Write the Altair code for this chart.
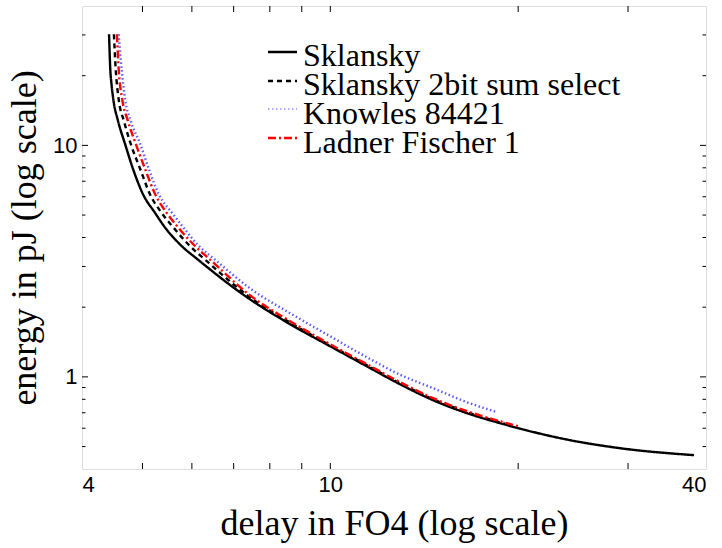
import altair as alt
import pandas as pd

# Energy/delay trade-off curves of four adder architectures
series_names = ["Sklansky", "Sklansky 2bit sum select", "Knowles 84421", "Ladner Fischer 1"]

sklansky_delay = [4.42, 4.44, 4.46, 4.49, 4.57, 4.69, 4.83, 5.01, 5.24, 5.43, 5.74, 6.18, 7.43, 8.62, 9.99,
                  11.36, 12.93, 14.61, 16.56, 18.71, 24.21, 29.12, 38.27]
sklansky_energy = [30.2, 21.3, 18.38, 15.8, 12.72, 10.12, 7.89, 6.15, 5.10, 4.43, 3.74, 3.16, 2.166, 1.689, 1.357,
                   1.123, 0.930, 0.793, 0.697, 0.631, 0.533, 0.492, 0.459]

sumsel_delay = [4.50, 4.53, 4.58, 4.67, 4.79, 4.96, 5.14, 5.37, 5.60, 5.92, 6.34, 7.43, 8.62, 9.99,
                11.36, 12.93, 14.61, 16.56, 19.06]
sumsel_energy = [30.2, 21.3, 15.8, 12.72, 10.12, 7.89, 6.15, 5.10, 4.43, 3.74, 3.16, 2.210, 1.715, 1.370,
                 1.135, 0.939, 0.801, 0.704, 0.627]

knowles_delay = [4.58, 4.63, 4.69, 4.79, 4.96, 5.12, 5.31, 5.58, 5.81, 6.12, 6.58, 7.43, 8.62, 9.99,
                 11.36, 12.93, 14.61, 16.56, 18.50]
knowles_energy = [30.2, 21.3, 15.8, 12.72, 10.12, 7.89, 6.15, 5.10, 4.43, 3.74, 3.16, 2.416, 1.884, 1.499,
                  1.229, 1.022, 0.894, 0.777, 0.704]

ladner_delay = [4.55, 4.58, 4.64, 4.74, 4.88, 5.05, 5.24, 5.47, 5.70, 6.03, 6.46, 7.43, 8.62, 9.99,
                11.36, 12.93, 14.61, 16.56, 19.99]
ladner_energy = [30.2, 21.3, 15.8, 12.72, 10.12, 7.89, 6.15, 5.10, 4.43, 3.74, 3.16, 2.254, 1.740, 1.384,
                 1.146, 0.949, 0.809, 0.711, 0.612]

x_label_values = [4, 10, 40]
y_label_values = [1, 10]
x_tick_values = [5, 6, 7, 8, 9, 10, 20, 30]
y_major_ticks = [1, 10]
y_minor_ticks = [0.5, 0.6, 0.7, 0.8, 0.9, 2, 3, 4, 5, 6, 7, 8, 9, 20, 30]

colors = ["#000000", "#000000", "#5a5aff", "#ff0000"]
dashes = [[1, 0], [5, 4], [1.5, 2.5], [8, 3, 2, 3]]
widths = [2.4, 2.4, 1.2, 2.4]

W, H = 624, 463
SERIF = "Liberation Serif"
SANS = "Liberation Sans"

rows = []
for name, xs, ys in [
    (series_names[0], sklansky_delay, sklansky_energy),
    (series_names[1], sumsel_delay, sumsel_energy),
    (series_names[2], knowles_delay, knowles_energy),
    (series_names[3], ladner_delay, ladner_energy),
]:
    for i, (dx, ey) in enumerate(zip(xs, ys)):
        rows.append({"series": name, "delay": dx, "energy": ey, "idx": i})
df = pd.DataFrame(rows)

x_scale = alt.Scale(type="log", domain=[4, 40], nice=False)
y_scale = alt.Scale(type="log", domain=[0.4, 40], nice=False)

lines = alt.Chart(df).mark_line(interpolate="monotone", clip=True).encode(
    x=alt.X("delay:Q", scale=x_scale,
            axis=alt.Axis(values=x_label_values, format="d", ticks=False, domain=False, grid=False,
                          labelFont=SANS, labelFontSize=22, labelPadding=5, labelColor="black",
                          title="delay in FO4 (log scale)", titleFont=SERIF, titleFontSize=36,
                          titleFontWeight="normal", titlePadding=11, titleColor="black")),
    y=alt.Y("energy:Q", scale=y_scale,
            axis=alt.Axis(values=y_label_values, format="d", ticks=False, domain=False, grid=False,
                          labelFont=SANS, labelFontSize=22, labelPadding=5, labelColor="black",
                          title="energy in pJ (log scale)", titleFont=SERIF, titleFontSize=36,
                          titleFontWeight="normal", titlePadding=9, titleColor="black")),
    color=alt.Color("series:N", scale=alt.Scale(domain=series_names, range=colors), legend=None),
    strokeDash=alt.StrokeDash("series:N", scale=alt.Scale(domain=series_names, range=dashes), legend=None),
    strokeWidth=alt.StrokeWidth("series:N", scale=alt.Scale(domain=series_names, range=widths), legend=None),
    order="idx:Q",
)

# inward-pointing tick marks on all four sides
xt = pd.DataFrame({"v": x_tick_values})
bottom_ticks = alt.Chart(xt).mark_rule(color="black", strokeWidth=1).encode(
    x=alt.X("v:Q", scale=x_scale), y=alt.value(H - 6), y2=alt.value(H))
top_ticks = alt.Chart(xt).mark_rule(color="black", strokeWidth=1).encode(
    x=alt.X("v:Q", scale=x_scale), y=alt.value(0), y2=alt.value(6))

ymaj = pd.DataFrame({"v": y_major_ticks})
ymin = pd.DataFrame({"v": y_minor_ticks})
left_major = alt.Chart(ymaj).mark_rule(color="black", strokeWidth=1).encode(
    y=alt.Y("v:Q", scale=y_scale), x=alt.value(0), x2=alt.value(6))
left_minor = alt.Chart(ymin).mark_rule(color="black", strokeWidth=1).encode(
    y=alt.Y("v:Q", scale=y_scale), x=alt.value(0), x2=alt.value(3.5))
right_major = alt.Chart(ymaj).mark_rule(color="black", strokeWidth=1).encode(
    y=alt.Y("v:Q", scale=y_scale), x=alt.value(W - 6), x2=alt.value(W))
right_minor = alt.Chart(ymin).mark_rule(color="black", strokeWidth=1).encode(
    y=alt.Y("v:Q", scale=y_scale), x=alt.value(W - 3.5), x2=alt.value(W))

# legend drawn inside the plot
legend_layers = []
sym_y = [46, 75, 103, 132]
txt_y = [60, 89, 118, 147]
for i, name in enumerate(series_names):
    ld = pd.DataFrame({"label": [name]})
    legend_layers.append(
        alt.Chart(ld).mark_rule(color=colors[i], strokeDash=dashes[i], strokeWidth=widths[i]).encode(
            x=alt.value(186), x2=alt.value(215), y=alt.value(sym_y[i])))
    legend_layers.append(
        alt.Chart(ld).mark_text(align="left", baseline="alphabetic", font=SERIF, fontSize=32,
                                color="black").encode(
            text="label:N", x=alt.value(221), y=alt.value(txt_y[i])))

chart = alt.layer(
    lines, bottom_ticks, top_ticks, left_major, left_minor, right_major, right_minor, *legend_layers
).properties(
    width=W, height=H,
    autosize=alt.AutoSizeParams(type="none"),
    padding={"left": 82, "top": 6, "right": 16, "bottom": 79},
).configure_view(stroke="black", strokeWidth=2).configure(background="white")

chart.save("out.html", embed_options={"renderer": "svg", "actions": False})
